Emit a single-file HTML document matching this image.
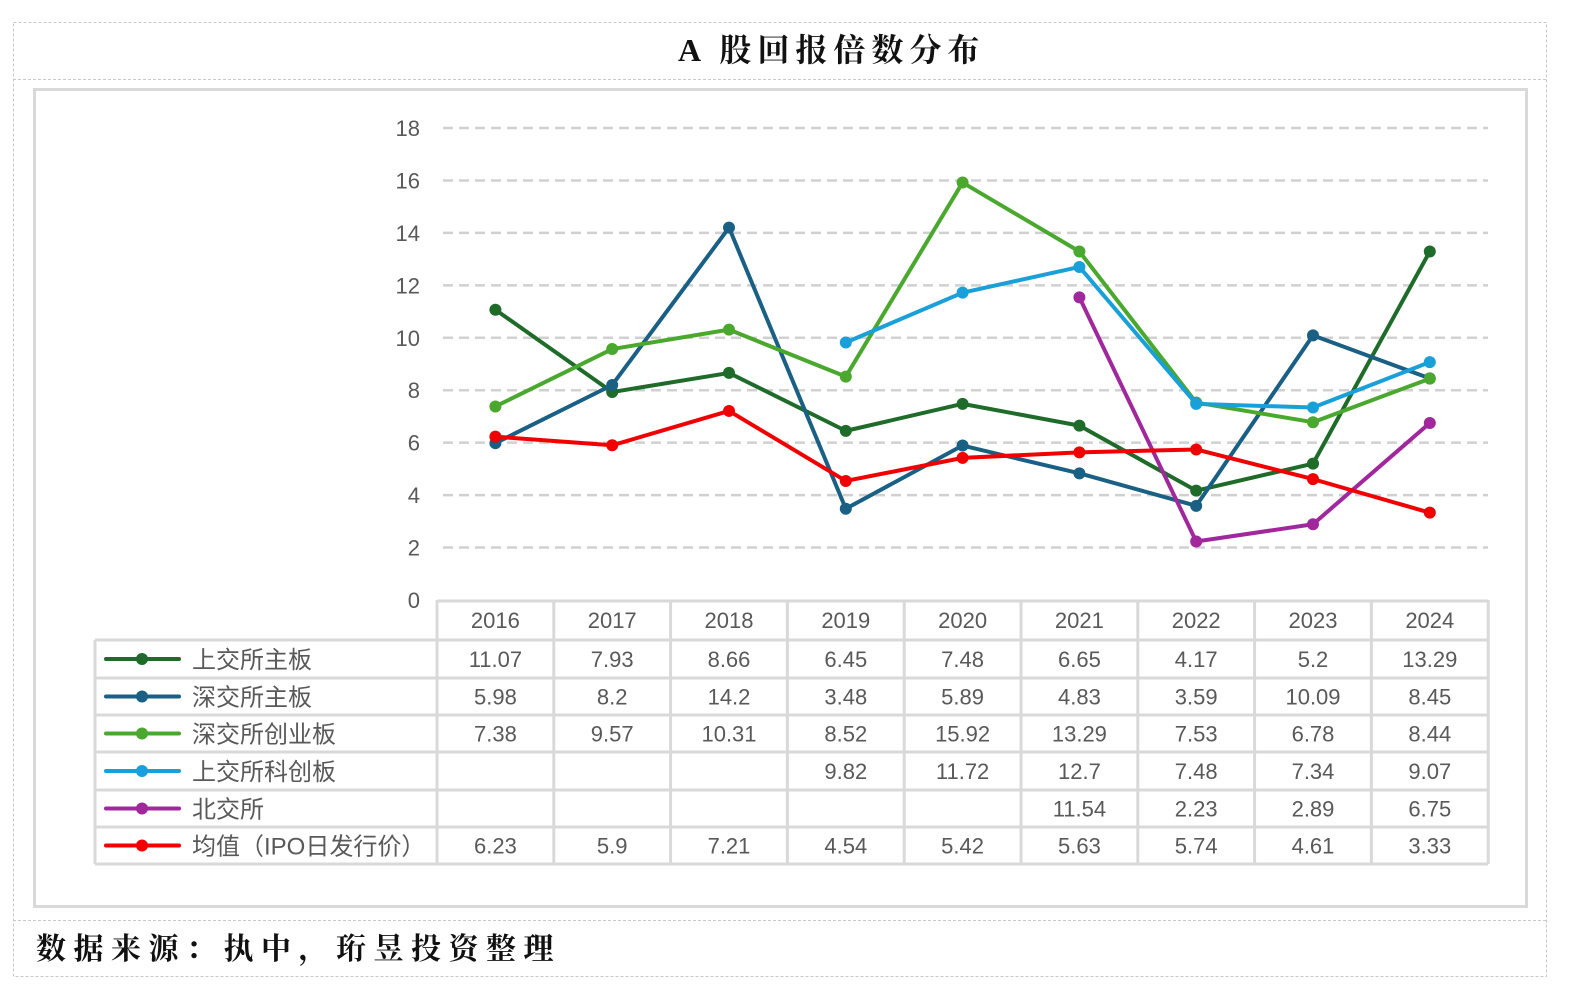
<!DOCTYPE html>
<html><head><meta charset="utf-8">
<style>
body{margin:0;background:#fff;}
svg text{font-family:"Liberation Sans","Noto Sans CJK SC",sans-serif;}
.t{font-family:"Liberation Serif","Noto Serif CJK SC",serif;font-weight:bold;}
</style></head>
<body>
<svg id="c" width="1569" height="1002" xmlns="http://www.w3.org/2000/svg">
<rect x="13.5" y="22.5" width="1533" height="954" fill="none" stroke="#c8c8c8" stroke-dasharray="3,2"/>
<line x1="13" y1="79.5" x2="1547" y2="79.5" stroke="#c8c8c8" stroke-dasharray="3,2"/>
<line x1="13" y1="920.5" x2="1547" y2="920.5" stroke="#c8c8c8" stroke-dasharray="3,2"/>
<text class="t" x="678" y="61" font-size="32" letter-spacing="6" fill="#111">A 股回报倍数分布</text>
<rect x="34.5" y="89.5" width="1492" height="817" fill="none" stroke="#d9d9d9" stroke-width="3"/>
<text class="t" x="36" y="959" font-size="30" letter-spacing="7.5" fill="#111">数据来源：执中，珩昱投资整理</text>
<g id="grid"></g><g id="table"></g><g id="series"></g>
</svg>
<script>
const years=["2016","2017","2018","2019","2020","2021","2022","2023","2024"];
const yTicks=[0,2,4,6,8,10,12,14,16,18];
const names=["上交所主板","深交所主板","深交所创业板","上交所科创板","北交所","均值（IPO日发行价）"];
const colors=["#1e6b2a","#1a5f84","#4aa82e","#1aa0d8","#a0289c","#f00000"];
const sseMain=[11.07,7.93,8.66,6.45,7.48,6.65,4.17,5.2,13.29];
const szseMain=[5.98,8.2,14.2,3.48,5.89,4.83,3.59,10.09,8.45];
const chinext=[7.38,9.57,10.31,8.52,15.92,13.29,7.53,6.78,8.44];
const star=[null,null,null,9.82,11.72,12.7,7.48,7.34,9.07];
const bse=[null,null,null,null,null,11.54,2.23,2.89,6.75];
const avg=[6.23,5.9,7.21,4.54,5.42,5.63,5.74,4.61,3.33];
const series=[sseMain,szseMain,chinext,star,bse,avg];
const NS="http://www.w3.org/2000/svg";
const x0=437,cw=116.8;
const xs=i=>x0+cw*(i+0.5);
const ys=v=>600-v*472/18;
function mk(tag,a,p,txt){const e=document.createElementNS(NS,tag);for(const k in a)e.setAttribute(k,a[k]);if(txt!=null)e.textContent=txt;p.appendChild(e);return e;}
const g=document.getElementById('grid'),tb=document.getElementById('table'),sg=document.getElementById('series');
yTicks.forEach(v=>{
 if(v>0){const l=mk('line',{x1:443,x2:1488,y1:ys(v),y2:ys(v),stroke:'#d0d0d0','stroke-width':2.5,'stroke-dasharray':'10,6'},g);
 
 }
 const t=mk('text',{x:420,y:ys(v)+8,'font-size':22,'text-anchor':'end',fill:'#595959'},g,String(v));
 
 
});
const st={stroke:'#d9d9d9','stroke-width':3};
const rowY=[640,678,715,752,790,827,864];
mk('line',Object.assign({x1:x0,x2:1488,y1:601,y2:601},st),tb);
rowY.forEach(y=>mk('line',Object.assign({x1:95,x2:1488,y1:y,y2:y},st),tb));
mk('line',Object.assign({x1:95,x2:95,y1:640,y2:864},st),tb);
for(let i=0;i<=9;i++)mk('line',Object.assign({x1:x0+cw*i,x2:x0+cw*i,y1:600,y2:864},st),tb);
years.forEach((y,i)=>{const t=mk('text',{x:xs(i),y:628,'font-size':22,'text-anchor':'middle',fill:'#595959'},tb,y);
 
 });
names.forEach((n,r)=>{
 const cy=(rowY[r]+rowY[r+1])/2;
 const lg=mk('g',{},tb);
 
 
 mk('line',{x1:106,x2:179,y1:cy,y2:cy,stroke:colors[r],'stroke-width':4,'stroke-linecap':'round'},lg);
 mk('circle',{cx:142,cy:cy,r:6,fill:colors[r]},lg);
 mk('text',{x:192,y:cy+9,'font-size':24,fill:'#595959'},lg,n);
 series[r].forEach((v,i)=>{if(v==null)return;
  const t=mk('text',{x:xs(i),y:cy+8,'font-size':22,'text-anchor':'middle',fill:'#595959'},tb,String(v));
  
  });
});
series.forEach((s,r)=>{
 const grp=mk('g',{},sg);
 
 
 const pts=[];s.forEach((v,i)=>{if(v!=null)pts.push([xs(i),ys(v)]);});
 mk('polyline',{points:pts.map(p=>p.join(',')).join(' '),fill:'none',stroke:colors[r],'stroke-width':4,'stroke-linejoin':'round'},grp);
 pts.forEach((p,k)=>{const c=mk('circle',{cx:p[0],cy:p[1],r:6,fill:colors[r]},grp);
  
  });
});
</script>
</body></html>
